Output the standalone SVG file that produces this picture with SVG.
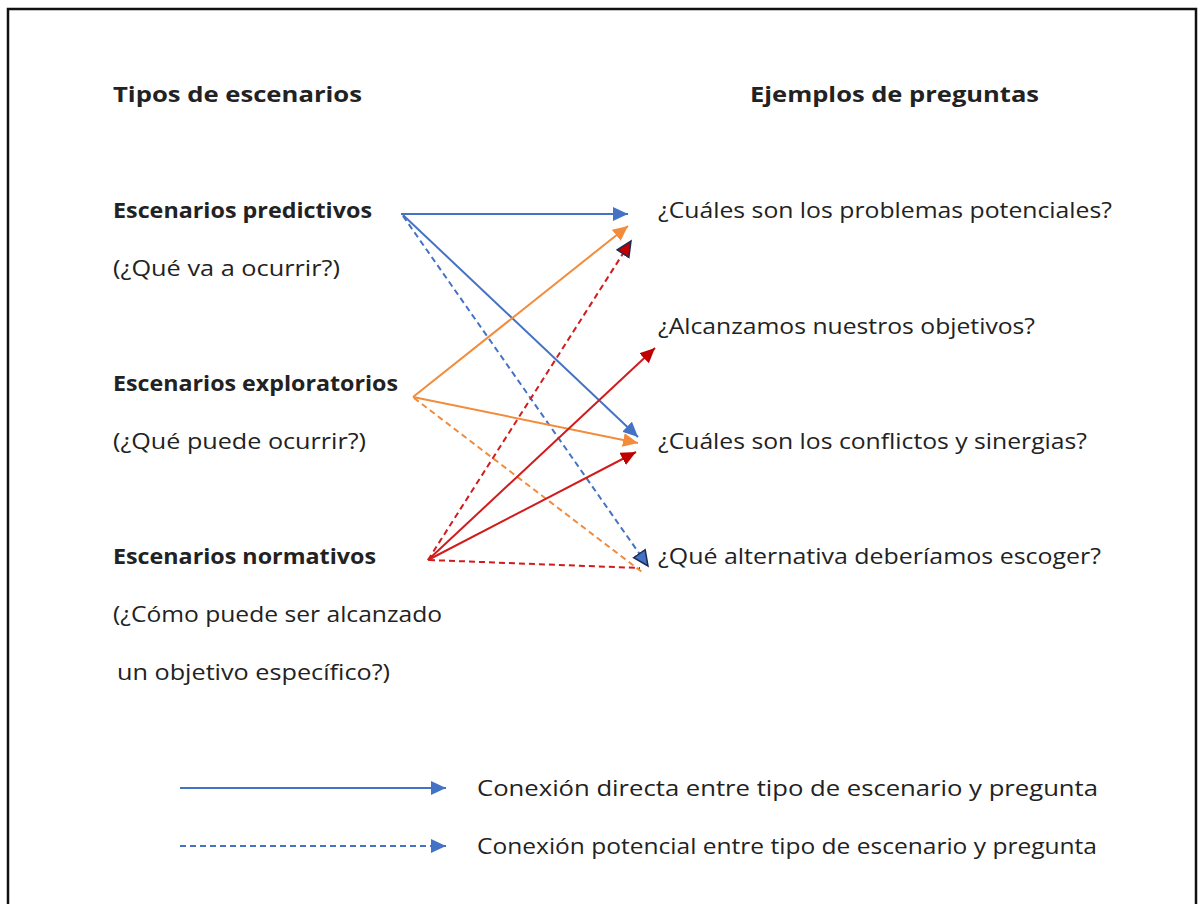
<svg xmlns="http://www.w3.org/2000/svg" width="1201" height="904" viewBox="0 0 1201 904">
<style>
text{font-family:"Open Sans","Noto Sans","DejaVu Sans",sans-serif;font-size:21px;fill:#222}
.b{font-weight:bold}
.bl{stroke:#4472C4;stroke-width:2;fill:none}
.or{stroke:#F28C3C;stroke-width:2;fill:none}
.rd{stroke:#D01C1C;stroke-width:2;fill:none}
.d{stroke-dasharray:6 4}
</style>
<defs>
<marker id="mb" markerUnits="userSpaceOnUse" markerWidth="18" markerHeight="16" refX="15" refY="7" orient="auto"><path d="M0,0 L15,7 L0,14 Z" fill="#4472C4"/></marker>
<marker id="mbo" markerUnits="userSpaceOnUse" markerWidth="20" markerHeight="18" refX="16" refY="8" orient="auto"><path d="M1,1 L16,8 L1,15 Z" fill="#4472C4" stroke="#1F2A4F" stroke-width="1.5"/></marker>
<marker id="mo" markerUnits="userSpaceOnUse" markerWidth="18" markerHeight="16" refX="15" refY="7" orient="auto"><path d="M0,0 L15,7 L0,14 Z" fill="#F28C3C"/></marker>
<marker id="mr" markerUnits="userSpaceOnUse" markerWidth="18" markerHeight="16" refX="15" refY="7" orient="auto"><path d="M0,0 L15,7 L0,14 Z" fill="#C00000"/></marker>
<marker id="mro" markerUnits="userSpaceOnUse" markerWidth="20" markerHeight="18" refX="16" refY="8" orient="auto"><path d="M1,1 L16,8 L1,15 Z" fill="#C00000" stroke="#1F2A4F" stroke-width="1.5"/></marker>
</defs>
<rect x="0" y="0" width="1201" height="904" fill="#fff"/>
<rect x="8" y="9" width="1188" height="900" fill="none" stroke="#111" stroke-width="2.5"/>
<g id="headers">
<text class="b" x="113" y="102" textLength="249" lengthAdjust="spacingAndGlyphs">Tipos de escenarios</text>
<text class="b" x="750" y="102" textLength="289" lengthAdjust="spacingAndGlyphs">Ejemplos de preguntas</text>
</g>
<g id="predictivos">
<text class="b" x="113" y="218" textLength="259" lengthAdjust="spacingAndGlyphs">Escenarios predictivos</text>
<text x="113" y="276" textLength="227" lengthAdjust="spacingAndGlyphs">(¿Qué va a ocurrir?)</text>
</g>
<g id="exploratorios">
<text class="b" x="113" y="391" textLength="285" lengthAdjust="spacingAndGlyphs">Escenarios exploratorios</text>
<text x="113" y="449" textLength="253" lengthAdjust="spacingAndGlyphs">(¿Qué puede ocurrir?)</text>
</g>
<g id="normativos">
<text class="b" x="113" y="564" textLength="263" lengthAdjust="spacingAndGlyphs">Escenarios normativos</text>
<text x="113" y="622" textLength="329" lengthAdjust="spacingAndGlyphs">(¿Cómo puede ser alcanzado</text>
<text x="117" y="680" textLength="273" lengthAdjust="spacingAndGlyphs">un objetivo específico?)</text>
</g>
<g id="q1"><text x="658" y="218" textLength="454" lengthAdjust="spacingAndGlyphs">¿Cuáles son los problemas potenciales?</text></g>
<g id="q2"><text x="658" y="334" textLength="377" lengthAdjust="spacingAndGlyphs">¿Alcanzamos nuestros objetivos?</text></g>
<g id="q3"><text x="658" y="449" textLength="429" lengthAdjust="spacingAndGlyphs">¿Cuáles son los conflictos y sinergias?</text></g>
<g id="q4"><text x="658" y="564" textLength="443" lengthAdjust="spacingAndGlyphs">¿Qué alternativa deberíamos escoger?</text></g>
<g id="connectors">
<line class="bl" x1="401" y1="214" x2="628" y2="214" marker-end="url(#mb)"/>
<line class="bl" x1="403" y1="215" x2="638" y2="437" marker-end="url(#mb)"/>
<line class="bl d" x1="403" y1="216" x2="648" y2="566" marker-end="url(#mbo)"/>
<line class="or" x1="413" y1="397" x2="628" y2="226" marker-end="url(#mo)"/>
<line class="or" x1="413" y1="397" x2="638" y2="443" marker-end="url(#mo)"/>
<line class="or d" x1="414" y1="398" x2="642" y2="572"/>
<line class="rd d" x1="428" y1="560" x2="631" y2="241" marker-end="url(#mro)"/>
<line class="rd" x1="428" y1="560" x2="655" y2="348" marker-end="url(#mr)"/>
<line class="rd" x1="428" y1="560" x2="636" y2="452" marker-end="url(#mr)"/>
<line class="rd d" x1="429" y1="560" x2="640" y2="568"/>
</g>
<g id="legend">
<line class="bl" x1="180" y1="788" x2="446" y2="788" marker-end="url(#mb)"/>
<line class="bl d" x1="180" y1="846" x2="446" y2="846" marker-end="url(#mb)"/>
<text x="477" y="796" textLength="621" lengthAdjust="spacingAndGlyphs">Conexión directa entre tipo de escenario y pregunta</text>
<text x="477" y="854" textLength="620" lengthAdjust="spacingAndGlyphs">Conexión potencial entre tipo de escenario y pregunta</text>
</g>
</svg>
